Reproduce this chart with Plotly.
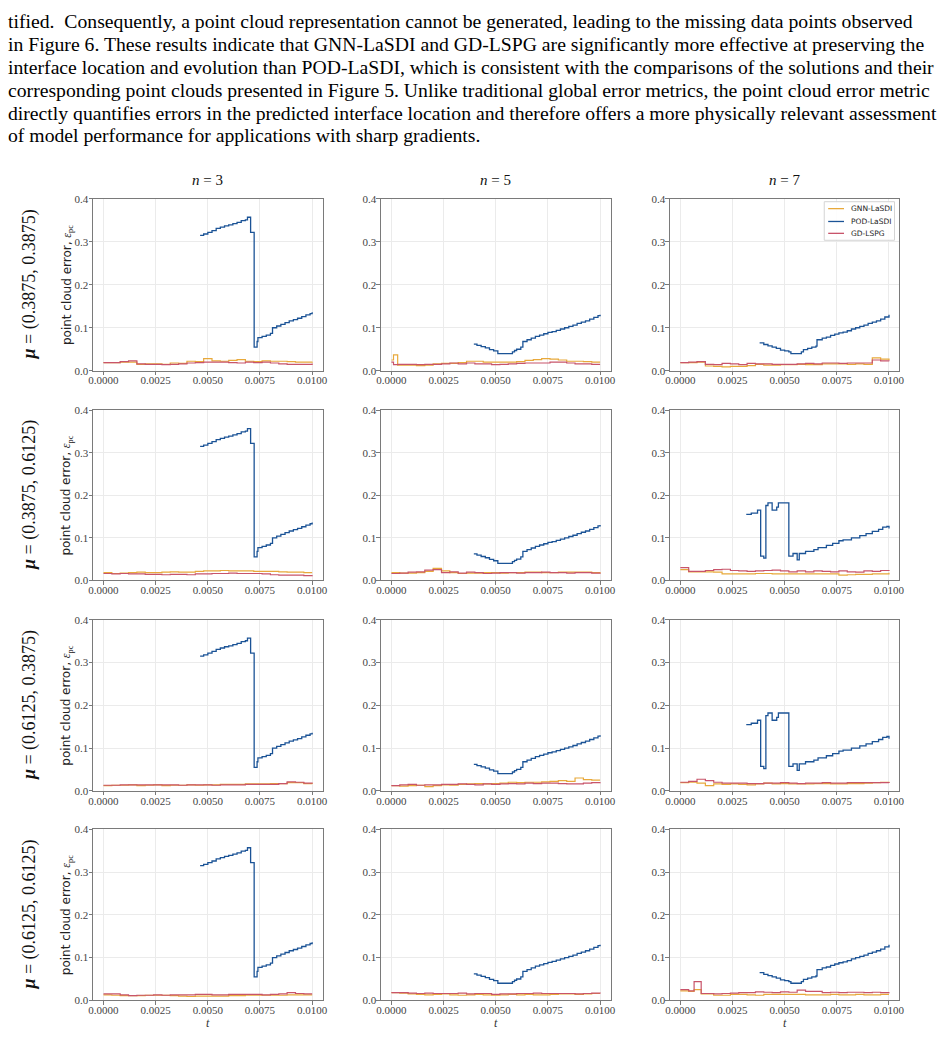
import plotly.graph_objects as go

W, H = 945, 1037

# ---------------- data ----------------
t_grid = [0.0000, 0.0004, 0.0008, 0.0012, 0.0016, 0.0020, 0.0024, 0.0028, 0.0032, 0.0036,
          0.0040, 0.0044, 0.0048, 0.0052, 0.0056, 0.0060, 0.0064, 0.0068, 0.0072, 0.0076,
          0.0080, 0.0084, 0.0088, 0.0092, 0.0096, 0.0100]
t_grid_r1c2 = [0.0000, 0.0001, 0.0003, 0.0012, 0.0016, 0.0020, 0.0024, 0.0028, 0.0032, 0.0036,
               0.0040, 0.0044, 0.0048, 0.0052, 0.0056, 0.0060, 0.0064, 0.0068, 0.0072, 0.0076,
               0.0080, 0.0084, 0.0088, 0.0092, 0.0096, 0.0100]
t_grid_r4c3 = [0.0000, 0.0004, 0.00066, 0.0010, 0.0016, 0.0020, 0.0024, 0.0028, 0.0032, 0.0036,
               0.0040, 0.0044, 0.0048, 0.0052, 0.0056, 0.0060, 0.0064, 0.0068, 0.0072, 0.0076,
               0.0080, 0.0084, 0.0088, 0.0092, 0.0096, 0.0100]

pod_a_t = [0.00463, 0.0048, 0.0050, 0.0052, 0.0054, 0.0056, 0.0058, 0.0060, 0.0062, 0.0064,
           0.0066, 0.0068, 0.0069, 0.00705, 0.00718, 0.00722, 0.00736, 0.0074, 0.0076, 0.0078,
           0.0080, 0.0081, 0.0083, 0.0085, 0.0087, 0.0089, 0.0091, 0.0093, 0.0095, 0.0097,
           0.0099, 0.0100]
pod_a_v = [0.315, 0.318, 0.322, 0.326, 0.331, 0.334, 0.337, 0.339, 0.342, 0.345,
           0.349, 0.351, 0.357, 0.322, 0.322, 0.055, 0.068, 0.077, 0.080, 0.083,
           0.087, 0.100, 0.104, 0.108, 0.112, 0.116, 0.119, 0.122, 0.126, 0.130,
           0.133, 0.136]

pod_b_t = [0.0038, 0.0040, 0.0042, 0.0044, 0.0046, 0.0048, 0.0050, 0.0052, 0.0053, 0.0058,
           0.0059, 0.0061, 0.0063, 0.0065, 0.00655, 0.0068, 0.0070, 0.0072, 0.0074, 0.0076,
           0.0078, 0.0080, 0.0082, 0.0084, 0.0086, 0.0088, 0.0090, 0.0092, 0.0094, 0.0096,
           0.0098, 0.0100]
pod_b_v = [0.065, 0.061, 0.058, 0.055, 0.052, 0.048, 0.046, 0.044, 0.040, 0.044,
           0.049, 0.052, 0.055, 0.057, 0.072, 0.076, 0.078, 0.082, 0.085, 0.088,
           0.090, 0.093, 0.097, 0.100, 0.103, 0.106, 0.110, 0.113, 0.116, 0.120,
           0.125, 0.130]

pod_b2_t = [0.00395, 0.0041, 0.0043, 0.0045, 0.0047, 0.0049, 0.0051, 0.0058, 0.0059, 0.0060,
            0.0062, 0.0063, 0.0065, 0.0067, 0.0069, 0.0071, 0.0073, 0.0075, 0.0077, 0.0079,
            0.0081, 0.0083, 0.0085, 0.0087, 0.0089, 0.0091, 0.0093, 0.0095, 0.0097, 0.0099,
            0.0100]
pod_b2_v = [0.062, 0.059, 0.056, 0.053, 0.049, 0.046, 0.040, 0.044, 0.047, 0.050,
            0.055, 0.068, 0.072, 0.076, 0.080, 0.083, 0.086, 0.089, 0.091, 0.094,
            0.097, 0.100, 0.103, 0.106, 0.110, 0.113, 0.116, 0.120, 0.124, 0.128,
            0.130]

pod_c_t = [0.00316, 0.0034, 0.0037, 0.00385, 0.0040, 0.0041, 0.0042, 0.0044, 0.00462, 0.0047,
           0.0052, 0.0054, 0.0056, 0.0057, 0.0060, 0.0064, 0.0066, 0.0070, 0.0073, 0.0076,
           0.0078, 0.0082, 0.0086, 0.0089, 0.0092, 0.0095, 0.0097, 0.0099, 0.0100]
pod_c_v = [0.155, 0.158, 0.165, 0.057, 0.052, 0.176, 0.182, 0.165, 0.172, 0.182,
           0.057, 0.063, 0.048, 0.063, 0.068, 0.072, 0.077, 0.082, 0.087, 0.093,
           0.095, 0.100, 0.105, 0.110, 0.115, 0.120, 0.125, 0.127, 0.122]

gnn_r1c1 = [0.019, 0.019, 0.020, 0.020, 0.015, 0.016, 0.016, 0.015, 0.018, 0.017, 0.022, 0.021, 0.028,
            0.023, 0.022, 0.024, 0.026, 0.022, 0.021, 0.023, 0.022, 0.022, 0.021, 0.020, 0.020, 0.021]
gd_r1c1 = [0.019, 0.019, 0.021, 0.023, 0.016, 0.015, 0.015, 0.014, 0.015, 0.016, 0.018, 0.019, 0.020,
           0.020, 0.020, 0.019, 0.018, 0.020, 0.019, 0.020, 0.018, 0.016, 0.015, 0.015, 0.015, 0.017]
gnn_r1c2 = [0.025, 0.037, 0.013, 0.012, 0.013, 0.016, 0.017, 0.017, 0.019, 0.022, 0.022, 0.020, 0.020,
            0.020, 0.020, 0.021, 0.024, 0.026, 0.028, 0.027, 0.025, 0.022, 0.022, 0.021, 0.020, 0.020]
gd_r1c2 = [0.020, 0.014, 0.015, 0.014, 0.015, 0.015, 0.016, 0.018, 0.016, 0.018, 0.016, 0.016, 0.014,
           0.015, 0.016, 0.017, 0.018, 0.018, 0.018, 0.020, 0.020, 0.018, 0.016, 0.016, 0.015, 0.015]
gnn_r1c3 = [0.019, 0.019, 0.020, 0.011, 0.010, 0.009, 0.010, 0.010, 0.012, 0.015, 0.013, 0.013, 0.014,
            0.014, 0.015, 0.014, 0.014, 0.016, 0.016, 0.016, 0.015, 0.016, 0.015, 0.030, 0.027, 0.025]
gd_r1c3 = [0.019, 0.020, 0.021, 0.015, 0.014, 0.017, 0.016, 0.014, 0.017, 0.016, 0.016, 0.015, 0.015,
           0.015, 0.016, 0.017, 0.016, 0.018, 0.018, 0.017, 0.018, 0.018, 0.018, 0.025, 0.023, 0.022]

gnn_r2c1 = [0.018, 0.016, 0.017, 0.018, 0.019, 0.018, 0.018, 0.019, 0.020, 0.019, 0.019, 0.021, 0.022,
            0.022, 0.023, 0.022, 0.022, 0.022, 0.021, 0.021, 0.021, 0.020, 0.019, 0.019, 0.018, 0.018]
gd_r2c1 = [0.016, 0.015, 0.016, 0.015, 0.015, 0.014, 0.014, 0.013, 0.014, 0.014, 0.013, 0.015, 0.015,
           0.016, 0.016, 0.017, 0.016, 0.016, 0.016, 0.015, 0.013, 0.012, 0.012, 0.012, 0.011, 0.012]
gnn_r2c2 = [0.018, 0.017, 0.017, 0.018, 0.021, 0.028, 0.022, 0.018, 0.016, 0.017, 0.017, 0.018, 0.018,
            0.017, 0.018, 0.018, 0.019, 0.019, 0.018, 0.018, 0.019, 0.019, 0.019, 0.019, 0.018, 0.019]
gd_r2c2 = [0.016, 0.017, 0.019, 0.020, 0.024, 0.025, 0.018, 0.020, 0.017, 0.019, 0.018, 0.016, 0.017,
           0.018, 0.018, 0.017, 0.018, 0.018, 0.019, 0.018, 0.018, 0.017, 0.018, 0.018, 0.017, 0.018]
gnn_r2c3 = [0.025, 0.020, 0.020, 0.020, 0.019, 0.015, 0.015, 0.015, 0.015, 0.016, 0.016, 0.015, 0.015,
            0.015, 0.015, 0.015, 0.015, 0.015, 0.015, 0.012, 0.013, 0.014, 0.014, 0.015, 0.015, 0.018]
gd_r2c3 = [0.030, 0.021, 0.021, 0.023, 0.025, 0.026, 0.023, 0.022, 0.021, 0.022, 0.023, 0.024, 0.022,
           0.020, 0.022, 0.020, 0.022, 0.021, 0.020, 0.022, 0.020, 0.019, 0.022, 0.021, 0.023, 0.024]

gnn_r3c1 = [0.012, 0.013, 0.013, 0.014, 0.012, 0.013, 0.014, 0.012, 0.013, 0.013, 0.014, 0.013, 0.014,
            0.014, 0.015, 0.015, 0.015, 0.016, 0.016, 0.016, 0.017, 0.017, 0.019, 0.019, 0.017, 0.016]
gd_r3c1 = [0.013, 0.013, 0.014, 0.014, 0.014, 0.014, 0.014, 0.014, 0.014, 0.013, 0.014, 0.014, 0.014,
           0.013, 0.014, 0.014, 0.014, 0.015, 0.015, 0.015, 0.015, 0.017, 0.021, 0.020, 0.018, 0.017]
gnn_r3c2 = [0.012, 0.011, 0.012, 0.013, 0.010, 0.012, 0.014, 0.013, 0.015, 0.016, 0.017, 0.016, 0.017,
            0.018, 0.020, 0.019, 0.020, 0.020, 0.021, 0.022, 0.024, 0.022, 0.030, 0.026, 0.025, 0.025]
gd_r3c2 = [0.012, 0.014, 0.015, 0.013, 0.014, 0.014, 0.015, 0.015, 0.016, 0.015, 0.014, 0.016, 0.015,
           0.016, 0.017, 0.016, 0.018, 0.017, 0.018, 0.018, 0.017, 0.016, 0.016, 0.018, 0.019, 0.020]
gnn_r3c3 = [0.019, 0.020, 0.018, 0.012, 0.016, 0.015, 0.016, 0.015, 0.014, 0.016, 0.018, 0.016, 0.017,
            0.016, 0.016, 0.016, 0.017, 0.017, 0.016, 0.016, 0.017, 0.017, 0.018, 0.019, 0.020, 0.021]
gd_r3c3 = [0.020, 0.022, 0.027, 0.024, 0.020, 0.018, 0.018, 0.018, 0.017, 0.017, 0.018, 0.018, 0.019,
           0.018, 0.017, 0.018, 0.018, 0.019, 0.018, 0.018, 0.019, 0.019, 0.019, 0.019, 0.019, 0.018]

gnn_r4c1 = [0.013, 0.012, 0.011, 0.011, 0.011, 0.012, 0.012, 0.012, 0.011, 0.010, 0.009, 0.010, 0.010,
            0.010, 0.010, 0.011, 0.011, 0.012, 0.012, 0.012, 0.012, 0.012, 0.013, 0.013, 0.013, 0.013]
gd_r4c1 = [0.015, 0.015, 0.013, 0.011, 0.012, 0.012, 0.013, 0.012, 0.013, 0.013, 0.013, 0.014, 0.014,
           0.013, 0.013, 0.014, 0.014, 0.014, 0.014, 0.013, 0.014, 0.015, 0.018, 0.016, 0.015, 0.015]
gnn_r4c2 = [0.018, 0.017, 0.015, 0.014, 0.013, 0.014, 0.015, 0.013, 0.012, 0.013, 0.014, 0.013, 0.012,
            0.013, 0.014, 0.013, 0.014, 0.013, 0.013, 0.014, 0.015, 0.015, 0.014, 0.015, 0.016, 0.016]
gd_r4c2 = [0.018, 0.018, 0.017, 0.016, 0.017, 0.016, 0.016, 0.016, 0.017, 0.015, 0.016, 0.016, 0.014,
           0.015, 0.015, 0.016, 0.016, 0.017, 0.016, 0.016, 0.016, 0.016, 0.015, 0.016, 0.017, 0.016]
gnn_r4c3 = [0.022, 0.021, 0.025, 0.015, 0.012, 0.012, 0.014, 0.014, 0.013, 0.012, 0.014, 0.014, 0.014,
            0.014, 0.014, 0.013, 0.013, 0.013, 0.014, 0.013, 0.013, 0.014, 0.013, 0.013, 0.014, 0.014]
gd_r4c3 = [0.025, 0.022, 0.044, 0.016, 0.015, 0.016, 0.017, 0.018, 0.018, 0.020, 0.019, 0.018, 0.020,
           0.019, 0.024, 0.021, 0.021, 0.018, 0.019, 0.018, 0.019, 0.019, 0.018, 0.019, 0.018, 0.019]

t_all = [[t_grid, t_grid_r1c2, t_grid], [t_grid, t_grid, t_grid],
         [t_grid, t_grid, t_grid], [t_grid, t_grid, t_grid_r4c3]]
gnn_all = [[gnn_r1c1, gnn_r1c2, gnn_r1c3], [gnn_r2c1, gnn_r2c2, gnn_r2c3],
           [gnn_r3c1, gnn_r3c2, gnn_r3c3], [gnn_r4c1, gnn_r4c2, gnn_r4c3]]
gd_all = [[gd_r1c1, gd_r1c2, gd_r1c3], [gd_r2c1, gd_r2c2, gd_r2c3],
          [gd_r3c1, gd_r3c2, gd_r3c3], [gd_r4c1, gd_r4c2, gd_r4c3]]
pod_all = [[(pod_a_t, pod_a_v), (pod_b2_t, pod_b2_v), (pod_b_t, pod_b_v)],
           [(pod_a_t, pod_a_v), (pod_b2_t, pod_b2_v), (pod_c_t, pod_c_v)],
           [(pod_a_t, pod_a_v), (pod_b2_t, pod_b2_v), (pod_c_t, pod_c_v)],
           [(pod_a_t, pod_a_v), (pod_b2_t, pod_b2_v), (pod_b_t, pod_b_v)]]

series_names = ["GNN-LaSDI", "POD-LaSDI", "GD-LSPG"]
n_values = ["3", "5", "7"]
row_labels = ["(0.3875, 0.3875)", "(0.3875, 0.6125)", "(0.6125, 0.3875)", "(0.6125, 0.6125)"]
x_ticks = [0.0, 0.0025, 0.005, 0.0075, 0.01]
x_ticklabels = ["0.0000", "0.0025", "0.0050", "0.0075", "0.0100"]
y_ticks = [0.0, 0.1, 0.2, 0.3, 0.4]
y_ticklabels = ["0.0", "0.1", "0.2", "0.3", "0.4"]

text_lines = [
    "tified.  Consequently, a point cloud representation cannot be generated, leading to the missing data points observed",
    "in Figure 6. These results indicate that GNN-LaSDI and GD-LSPG are significantly more effective at preserving the",
    "interface location and evolution than POD-LaSDI, which is consistent with the comparisons of the solutions and their",
    "corresponding point clouds presented in Figure 5. Unlike traditional global error metrics, the point cloud error metric",
    "directly quantifies errors in the predicted interface location and therefore offers a more physically relevant assessment",
    "of model performance for applications with sharp gradients.",
]

# ---------------- styles ----------------
C_GNN = "#E8A93B"
C_POD = "#1B5396"
C_GD = "#C8546A"
colors = [C_GNN, C_POD, C_GD]
SERIF = "Liberation Serif"
SANS = "DejaVu Sans"

col_px = [(89, 321), (380, 612), (672, 904)]
row_px = [(195, 369), (409, 581), (621, 794), (833, 1006)]

fig = go.Figure()
layout = {}
annotations = []
shapes = []

for r in range(4):
    for c in range(3):
        k = r * 3 + c + 1
        xa = "x" if k == 1 else f"x{k}"
        ya = "y" if k == 1 else f"y{k}"
        tt = t_all[r][c]
        fig.add_trace(go.Scatter(x=tt, y=gnn_all[r][c], mode="lines", line_shape="hv",
                                 line=dict(color=C_GNN, width=1.2), name=series_names[0],
                                 showlegend=False, xaxis=xa, yaxis=ya))
        pt, pv = pod_all[r][c]
        fig.add_trace(go.Scatter(x=pt, y=pv, mode="lines", line_shape="hv",
                                 line=dict(color=C_POD, width=1.3), name=series_names[1],
                                 showlegend=False, xaxis=xa, yaxis=ya))
        fig.add_trace(go.Scatter(x=tt, y=gd_all[r][c], mode="lines", line_shape="hv",
                                 line=dict(color=C_GD, width=1.2), name=series_names[2],
                                 showlegend=False, xaxis=xa, yaxis=ya))
        x0, x1 = col_px[c]
        y0, y1 = row_px[r]
        axcommon = dict(showline=True, linecolor="#7a7a7a", linewidth=1, mirror=True,
                        showgrid=True, gridcolor="#ebebeb", gridwidth=1, zeroline=False,
                        ticks="outside", ticklen=3.5, tickcolor="#7a7a7a",
                        tickfont=dict(family=SERIF, size=11, color="#444444"))
        layout["xaxis" if k == 1 else f"xaxis{k}"] = dict(
            domain=[x0 / W, x1 / W], anchor=ya, range=[-0.0005, 0.0105],
            tickvals=x_ticks, ticktext=x_ticklabels, ticklabelstandoff=-4, **axcommon)
        layout["yaxis" if k == 1 else f"yaxis{k}"] = dict(
            domain=[1 - y1 / H, 1 - y0 / H], anchor=xa, range=[0, 0.4],
            tickvals=y_ticks, ticktext=y_ticklabels, ticklabelstandoff=-2, **axcommon)

# column titles and x-axis titles
for c in range(3):
    xc = (col_px[c][0] + col_px[c][1]) / 2
    annotations.append(dict(text=f"<i>n</i> = {n_values[c]}", x=xc / W, y=1 - 176 / H,
                            xref="paper", yref="paper", showarrow=False,
                            xanchor="center", yanchor="middle",
                            font=dict(family=SERIF, size=15, color="#111")))
    annotations.append(dict(text="<i>t</i>", x=xc / W, y=0,
                            xref="paper", yref="paper", showarrow=False,
                            xanchor="center", yanchor="bottom", borderpad=0,
                            font=dict(family=SERIF, size=12, color="#333")))

# row labels and y-axis titles
for r in range(4):
    yc = (row_px[r][0] + row_px[r][1]) / 2
    annotations.append(dict(text=f"<b><i>μ</i></b> = {row_labels[r]}", x=25 / W, y=1 - yc / H,
                            xref="paper", yref="paper", showarrow=False, textangle=-90,
                            xanchor="center", yanchor="middle",
                            font=dict(family=SERIF, size=18, color="#111")))
    annotations.append(dict(
        text=f"point cloud error, <span style='font-family:{SERIF}'><i>ε</i><sub>pc</sub></span>",
        x=63 / W, y=1 - yc / H, xref="paper", yref="paper", showarrow=False, textangle=-90,
        xanchor="center", yanchor="middle",
        font=dict(family=SANS, size=12, color="#222")))

# paragraph text
for i, line in enumerate(text_lines):
    annotations.append(dict(text=line, x=1 / W, y=1 - (15 + 23.2 * i) / H,
                            xref="paper", yref="paper", xanchor="left", yanchor="middle",
                            showarrow=False, font=dict(family=SERIF, size=19.7, color="#000")))

# legend box (row 1, col 3)
shapes.append(dict(type="rect", xref="paper", yref="paper",
                   x0=828 / W, x1=899 / W, y0=1 - 237 / H, y1=1 - 198 / H,
                   line=dict(color="#d4d4d4", width=1), fillcolor="rgba(255,255,255,0.9)"))
leg_y = [205, 218, 230]
for i in range(3):
    shapes.append(dict(type="line", xref="paper", yref="paper",
                       x0=832 / W, x1=848 / W, y0=1 - leg_y[i] / H, y1=1 - leg_y[i] / H,
                       line=dict(color=colors[i], width=1.3)))
    annotations.append(dict(text=series_names[i], x=853 / W, y=1 - leg_y[i] / H,
                            xref="paper", yref="paper", xanchor="left", yanchor="middle",
                            showarrow=False, font=dict(family=SANS, size=7.5, color="#222")))

fig.update_layout(
    width=W, height=H, margin=dict(l=0, r=0, t=0, b=0),
    paper_bgcolor="white", plot_bgcolor="white",
    annotations=annotations, shapes=shapes, showlegend=False,
    **layout,
)

fig.write_html("out.html")
